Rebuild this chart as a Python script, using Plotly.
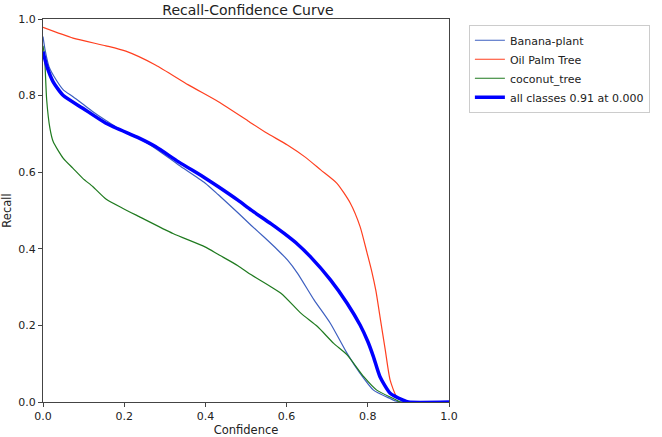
import plotly.graph_objects as go

# Confidence / recall samples
banana_x = [0.0, 0.005, 0.015, 0.033, 0.05, 0.074, 0.098, 0.123, 0.155, 0.2, 0.237, 0.277, 0.334, 0.399, 0.432, 0.48, 0.513, 0.545, 0.578, 0.602, 0.627, 0.668, 0.708, 0.749, 0.781, 0.814, 0.855, 0.87, 0.9, 1.0]
banana_y = [0.954, 0.92, 0.875, 0.84, 0.815, 0.797, 0.778, 0.758, 0.735, 0.705, 0.688, 0.662, 0.619, 0.572, 0.541, 0.494, 0.461, 0.43, 0.397, 0.371, 0.336, 0.266, 0.205, 0.127, 0.075, 0.031, 0.009, 0.002, 0.0, 0.0]

oil_x = [0.0, 0.074, 0.155, 0.204, 0.277, 0.358, 0.432, 0.505, 0.55, 0.602, 0.645, 0.684, 0.724, 0.757, 0.781, 0.798, 0.81, 0.82, 0.83, 0.843, 0.855, 0.871, 0.887, 0.9, 1.0]
oil_y = [0.978, 0.950, 0.930, 0.916, 0.88, 0.828, 0.784, 0.734, 0.703, 0.671, 0.64, 0.606, 0.571, 0.519, 0.458, 0.39, 0.34, 0.29, 0.223, 0.136, 0.057, 0.014, 0.005, 0.0, 0.0]

coco_x = [0.0, 0.003, 0.005, 0.009, 0.017, 0.025, 0.05, 0.074, 0.098, 0.123, 0.155, 0.196, 0.237, 0.32, 0.399, 0.432, 0.48, 0.513, 0.586, 0.635, 0.676, 0.716, 0.749, 0.79, 0.822, 0.863, 0.88, 1.0]
coco_y = [0.93, 0.91, 0.88, 0.79, 0.715, 0.68, 0.636, 0.61, 0.584, 0.562, 0.53, 0.506, 0.484, 0.44, 0.405, 0.385, 0.356, 0.332, 0.284, 0.232, 0.197, 0.153, 0.123, 0.066, 0.031, 0.009, 0.0, 0.0]

all_x = [0.0, 0.01, 0.025, 0.05, 0.098, 0.155, 0.237, 0.277, 0.334, 0.399, 0.432, 0.48, 0.513, 0.562, 0.594, 0.627, 0.659, 0.708, 0.749, 0.781, 0.8, 0.814, 0.83, 0.855, 0.887, 0.9, 1.0]
all_y = [0.915, 0.875, 0.836, 0.80, 0.767, 0.728, 0.689, 0.667, 0.627, 0.585, 0.562, 0.527, 0.501, 0.465, 0.44, 0.412, 0.379, 0.319, 0.258, 0.201, 0.158, 0.118, 0.066, 0.023, 0.005, 0.0, 0.0]

names = ["Banana-plant", "Oil Palm Tree", "coconut_tree", "all classes 0.91 at 0.000"]
colors = ["#3d5fc0", "#ff3f1f", "#1f7a1f", "#0000ff"]
widths = [1.2, 1.2, 1.2, 3.5]

fig = go.Figure()
for xs, ys, n, c, w in zip([banana_x, oil_x, coco_x, all_x], [banana_y, oil_y, coco_y, all_y], names, colors, widths):
    fig.add_trace(go.Scatter(x=xs, y=ys, mode="lines", name=n,
                             line=dict(color=c, width=w, shape="spline", smoothing=0.6)))

axis_common = dict(range=[0, 1], showgrid=False, zeroline=False, showline=True, mirror=True,
                   linecolor="#444", linewidth=1, ticks="outside", ticklen=4, tickcolor="#444",
                   tickformat=".1f", dtick=0.2, tick0=0, automargin=False,
                   tickfont=dict(family="DejaVu Sans", size=11, color="#222"))

fig.update_layout(
    width=662, height=437,
    margin=dict(l=43, r=209, t=19, b=35),
    paper_bgcolor="white", plot_bgcolor="white",
    title=dict(text="Recall-Confidence Curve", x=(43 + 453) / 2 / 662, xanchor="center",
               y=1 - 10 / 437, yanchor="middle",
               font=dict(family="DejaVu Sans", size=14, color="#222")),
    xaxis=dict(axis_common, title=dict(text="Confidence", standoff=2,
                                       font=dict(family="DejaVu Sans", size=11.5, color="#222"))),
    yaxis=dict(axis_common, title=dict(text="Recall", standoff=4,
                                       font=dict(family="DejaVu Sans", size=11.5, color="#222"))),
    legend=dict(x=1.049, y=0.985, xanchor="left", yanchor="top",
                bordercolor="#ccc", borderwidth=1, bgcolor="white",
                font=dict(family="DejaVu Sans", size=11, color="#222"),
                tracegroupgap=0),
    showlegend=True,
)

fig.write_html("out.html")
